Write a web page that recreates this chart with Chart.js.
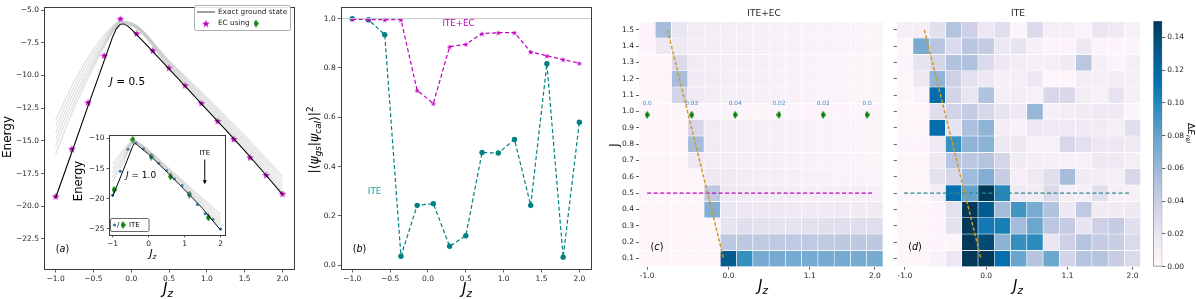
<!DOCTYPE html>
<html>
<head>
<meta charset="utf-8">
<script src="https://cdn.jsdelivr.net/npm/chart.js@4.4.0/dist/chart.umd.min.js"></script>
<style>
html, body { margin: 0; padding: 0; background: #fff; }
#fig { position: relative; width: 1196px; height: 299px; overflow: hidden; background: #fff; }
#fig canvas { position: absolute; }
</style>
</head>
<body>
<div id="fig">
  <canvas id="panelA" width="300" height="299" style="left:0px;top:0px"></canvas>
  <canvas id="inset" width="160" height="135" style="left:72px;top:128px"></canvas>
  <canvas id="panelB" width="300" height="299" style="left:300px;top:0px"></canvas>
  <canvas id="panelC" width="280" height="299" style="left:608px;top:0px"></canvas>
  <canvas id="panelD" width="262" height="299" style="left:888px;top:0px"></canvas>
  <canvas id="cbar" width="51" height="299" style="left:1145px;top:0px"></canvas>
</div>
<script>
// ---- data ----
const jzGrid = [-1.0, -0.786, -0.571, -0.357, -0.143, 0.071, 0.286, 0.5, 0.714, 0.929, 1.143, 1.357, 1.571, 1.786, 2.0];

// (a) J = 0.5
const ecEnergyJ05 = [-19.24, -15.6, -12.05, -8.46, -5.65, -6.78, -8.08, -9.39, -10.74, -12.1, -13.47, -14.85, -16.26, -17.61, -19.04];
const exactJz = [-1.0, -0.8, -0.6, -0.4, -0.25, -0.2, -0.15, -0.1, -0.05, 0.0, 0.25, 0.5, 0.75, 1.0, 1.25, 1.5, 1.75, 2.0];
const exactJ05 = [-19.35, -16.1, -12.8, -9.55, -7.1, -6.45, -6.1, -6.05, -6.2, -6.45, -7.95, -9.5, -11.05, -12.6, -14.15, -15.75, -17.4, -19.1];
const bundleJz = [-1.0, -0.75, -0.5, -0.3, -0.15, 0.0, 0.5, 1.0, 1.5, 2.0];
const bundleJ05 = [
    [-13.4, -10.4, -8.0, -6.55, -5.85, -5.95, -8.85, -11.7, -14.6, -17.7],
    [-13.9, -10.8, -8.3, -6.7, -5.9, -6.0, -8.95, -11.85, -14.8, -17.95],
    [-14.4, -11.2, -8.6, -6.85, -5.95, -6.05, -9.05, -12.0, -15.0, -18.2],
    [-14.9, -11.6, -8.9, -7.0, -6.0, -6.1, -9.15, -12.15, -15.2, -18.45],
    [-15.4, -12.0, -9.15, -7.1, -6.05, -6.15, -9.25, -12.3, -15.4, -18.7],
    [-16.0, -12.4, -9.4, -7.2, -6.1, -6.2, -9.35, -12.45, -15.6, -18.95]
];

// (a) inset, J = 1.0
const iteEnergyJ1 = [-19.43, -15.45, -11.8, -10.7, -11.7, -12.9, -14.1, -15.3, -16.7, -17.8, -19.2, -20.95, -22.5, -23.4, -25.0];
const trainJz = [-0.96, -0.44, 0.07, 0.61, 1.13, 1.66];
const trainEnergyJ1 = [-18.5, -10.2, -13.0, -16.3, -19.3, -23.1];
const exactJzInset = [-1.0, -0.8, -0.6, -0.45, -0.4, -0.35, -0.2, 0.0, 0.5, 1.0, 1.5, 2.0];
const exactJ1 = [-19.6, -16.7, -13.7, -11.4, -10.85, -10.9, -11.65, -12.6, -15.5, -18.5, -21.6, -25.2];
const bundleJzInset = [-1.0, -0.7, -0.42, -0.2, 0.0, 0.5, 1.0, 1.5, 2.0];
const bundleJ1 = [
    [-14.3, -12.0, -10.3, -11.0, -11.9, -14.6, -17.3, -20.0, -22.6],
    [-15.0, -12.5, -10.4, -11.1, -12.05, -14.8, -17.6, -20.4, -23.1],
    [-15.7, -13.0, -10.5, -11.2, -12.2, -15.0, -17.9, -20.8, -23.6],
    [-16.4, -13.5, -10.6, -11.3, -12.35, -15.2, -18.2, -21.2, -24.1],
    [-17.1, -14.0, -10.7, -11.4, -12.5, -15.4, -18.5, -21.6, -24.6]
];

// (b) overlaps
const overlapITE = [1.0, 0.995, 0.935, 0.037, 0.243, 0.25, 0.077, 0.12, 0.457, 0.455, 0.51, 0.243, 0.817, 0.033, 0.58];
const overlapEC = [0.997, 0.996, 0.996, 0.996, 0.709, 0.656, 0.886, 0.896, 0.939, 0.943, 0.943, 0.865, 0.849, 0.834, 0.819];

// (c)/(d) relative energy error, rows J = 1.5 ... 0.1, columns Jz index 0..14
const jRows = [1.5, 1.4, 1.3, 1.2, 1.1, 1.0, 0.9, 0.8, 0.7, 0.6, 0.5, 0.4, 0.3, 0.2, 0.1];
const errEC = [
    [0.003, 0.056, 0.02, 0.013, 0.012, 0.011, 0.01, 0.009, 0.008, 0.007, 0.006, 0.006, 0.005, 0.005, 0.004],
    [0.003, 0.018, 0.018, 0.013, 0.012, 0.011, 0.01, 0.009, 0.008, 0.007, 0.006, 0.006, 0.005, 0.005, 0.004],
    [0.002, 0.002, 0.03, 0.014, 0.012, 0.011, 0.01, 0.009, 0.008, 0.007, 0.006, 0.005, 0.005, 0.004, 0.004],
    [0.002, 0.002, 0.056, 0.015, 0.013, 0.011, 0.01, 0.009, 0.008, 0.007, 0.006, 0.005, 0.005, 0.004, 0.004],
    [0.002, 0.002, 0.036, 0.015, 0.013, 0.011, 0.01, 0.009, 0.008, 0.007, 0.006, 0.005, 0.005, 0.004, 0.004],
    [0.002, 0.002, 0.004, 0.006, 0.005, 0.005, 0.004, 0.004, 0.004, 0.003, 0.003, 0.003, 0.003, 0.003, 0.003],
    [0.002, 0.002, 0.002, 0.032, 0.014, 0.012, 0.011, 0.01, 0.009, 0.008, 0.007, 0.006, 0.005, 0.005, 0.004],
    [0.002, 0.002, 0.002, 0.056, 0.014, 0.012, 0.011, 0.01, 0.009, 0.008, 0.007, 0.006, 0.005, 0.005, 0.004],
    [0.002, 0.002, 0.002, 0.018, 0.013, 0.012, 0.011, 0.01, 0.009, 0.008, 0.007, 0.006, 0.005, 0.005, 0.004],
    [0.002, 0.002, 0.002, 0.002, 0.018, 0.016, 0.013, 0.011, 0.01, 0.009, 0.008, 0.007, 0.006, 0.006, 0.005],
    [0.002, 0.002, 0.002, 0.002, 0.046, 0.018, 0.015, 0.014, 0.013, 0.012, 0.011, 0.01, 0.01, 0.01, 0.009],
    [0.002, 0.002, 0.002, 0.002, 0.07, 0.02, 0.019, 0.018, 0.017, 0.016, 0.015, 0.015, 0.015, 0.014, 0.014],
    [0.002, 0.002, 0.002, 0.002, 0.002, 0.022, 0.026, 0.024, 0.023, 0.023, 0.024, 0.025, 0.026, 0.027, 0.027],
    [0.002, 0.002, 0.002, 0.002, 0.002, 0.046, 0.046, 0.045, 0.045, 0.045, 0.045, 0.045, 0.046, 0.046, 0.046],
    [0.002, 0.002, 0.002, 0.002, 0.002, 0.13, 0.094, 0.074, 0.074, 0.074, 0.074, 0.074, 0.074, 0.074, 0.074]
];
const errITE = [
    [0.01, 0.01, 0.025, 0.05, 0.038, 0.019, 0.026, 0.004, 0.03, 0.01, 0.01, 0.005, 0.02, 0.016, 0.008],
    [0.002, 0.073, 0.048, 0.03, 0.048, 0.043, 0.018, 0.022, 0.009, 0.004, 0.003, 0.017, 0.003, 0.003, 0.003],
    [0.003, 0.022, 0.034, 0.051, 0.052, 0.03, 0.018, 0.013, 0.011, 0.01, 0.014, 0.047, 0.009, 0.003, 0.01],
    [0.002, 0.017, 0.064, 0.038, 0.024, 0.018, 0.009, 0.01, 0.019, 0.002, 0.002, 0.012, 0.009, 0.013, 0.009],
    [0.002, 0.005, 0.115, 0.035, 0.02, 0.051, 0.01, 0.013, 0.008, 0.032, 0.031, 0.013, 0.008, 0.023, 0.009],
    [0.002, 0.002, 0.027, 0.036, 0.043, 0.032, 0.021, 0.018, 0.062, 0.009, 0.012, 0.014, 0.016, 0.016, 0.004],
    [0.002, 0.002, 0.115, 0.022, 0.053, 0.065, 0.012, 0.006, 0.019, 0.016, 0.016, 0.016, 0.014, 0.011, 0.026],
    [0.003, 0.003, 0.016, 0.093, 0.065, 0.067, 0.018, 0.018, 0.007, 0.008, 0.032, 0.024, 0.019, 0.017, 0.016],
    [0.002, 0.002, 0.018, 0.048, 0.047, 0.05, 0.034, 0.014, 0.012, 0.009, 0.008, 0.008, 0.018, 0.016, 0.01],
    [0.002, 0.002, 0.024, 0.032, 0.058, 0.07, 0.041, 0.01, 0.016, 0.026, 0.056, 0.014, 0.012, 0.011, 0.032],
    [0.002, 0.002, 0.012, 0.113, 0.08, 0.15, 0.1, 0.016, 0.014, 0.03, 0.01, 0.01, 0.026, 0.01, 0.008],
    [0.002, 0.002, 0.003, 0.024, 0.15, 0.13, 0.057, 0.09, 0.073, 0.051, 0.018, 0.045, 0.014, 0.014, 0.017],
    [0.002, 0.002, 0.003, 0.024, 0.15, 0.107, 0.104, 0.057, 0.077, 0.047, 0.043, 0.021, 0.038, 0.043, 0.026],
    [0.002, 0.002, 0.003, 0.004, 0.15, 0.14, 0.066, 0.094, 0.097, 0.02, 0.038, 0.05, 0.042, 0.04, 0.03],
    [0.002, 0.002, 0.006, 0.019, 0.15, 0.15, 0.113, 0.078, 0.049, 0.077, 0.035, 0.05, 0.05, 0.041, 0.03]
];
// EC training points on the J = 1.0 row and their errors
const trainCols = [0.0, 2.74, 5.41, 8.1, 10.82, 13.52];
const trainJ = 0.98;
const trainErrLabels = ['0.0', '0.03', '0.04', '0.02', '0.02', '0.0'];
// guide lines over the heatmaps
const guideC = [{ x: 1.25, y: 1.5 }, { x: 4.7, y: 0.1 }];
const guideD = [{ x: 1.2, y: 1.5 }, { x: 4.68, y: 0.1 }];
const cutJ = 0.5;
const cutCols = [0.0, 13.95];

// ticks
const ticksAx = [-1.0, -0.5, 0.0, 0.5, 1.0, 1.5, 2.0];
const ticksAy = [-22.5, -20.0, -17.5, -15.0, -12.5, -10.0, -7.5, -5.0];
const ticksInsetX = [-1, 0, 1, 2];
const ticksInsetY = [-25, -20, -15, -10];
const ticksBy = [0.0, 0.2, 0.4, 0.6, 0.8, 1.0];
const heatTickCols = [0, 5, 10, 14];
const heatTickLabels = ['-1.0', '0.0', '1.1', '2.0'];
const cbarTicks = [0.0, 0.02, 0.04, 0.06, 0.08, 0.10, 0.12, 0.14];

// ---- style ----
const MAG = '#bf00bf';
const TEAL = '#008080';
const GREEN = '#0a800a';
const GOLD = '#d49a1e';
const PUBU = ['#fff7fb', '#ece7f2', '#d0d1e6', '#a6bddb', '#74a9cf', '#3690c0', '#0570b0', '#045a8d', '#023858'];
const VMAX = 0.15;
const FONT = '"DejaVu Sans", sans-serif';
const BUNDLE = 'rgba(150,150,150,0.3)';

Chart.defaults.font.family = FONT;
Chart.defaults.font.size = 7.5;
Chart.defaults.color = '#1f1f1f';
Chart.defaults.animation = false;

function hexRgb(h) {
    return [1, 3, 5].map(function (i) { return parseInt(h.substr(i, 2), 16); });
}

function pubu(v) {
    var t = Math.max(0, Math.min(1, v / VMAX)) * (PUBU.length - 1);
    var i = Math.min(Math.floor(t), PUBU.length - 2);
    var f = t - i;
    var a = hexRgb(PUBU[i]), b = hexRgb(PUBU[i + 1]);
    return 'rgb(' + a.map(function (x, k) { return Math.round(x + (b[k] - x) * f); }).join(',') + ')';
}

function minus(s) {
    return String(s).replace('-', '\u2212');
}

function starImg(size, fill) {
    var c = document.createElement('canvas');
    c.width = size; c.height = size;
    var g = c.getContext('2d');
    var R = size / 2, r = R * 0.4;
    g.beginPath();
    for (var i = 0; i < 10; i++) {
        var ang = -Math.PI / 2 + i * Math.PI / 5;
        var rad = i % 2 ? r : R;
        g.lineTo(size / 2 + rad * Math.cos(ang), size / 2 + 0.4 + rad * Math.sin(ang));
    }
    g.closePath();
    g.fillStyle = fill;
    g.fill();
    return c;
}

function diamondImg(w, h, fill) {
    var c = document.createElement('canvas');
    c.width = w; c.height = h;
    var g = c.getContext('2d');
    g.beginPath();
    g.moveTo(w / 2, 0); g.lineTo(w, h / 2); g.lineTo(w / 2, h); g.lineTo(0, h / 2);
    g.closePath();
    g.fillStyle = fill;
    g.fill();
    return c;
}

const starBig = starImg(8, MAG);
const starSmall = starImg(6, MAG);
const diamond = diamondImg(5, 8, GREEN);

// text with sub/superscripts, centred at (x, y)
function drawMath(ctx, segs, x, y, size, color, rot) {
    ctx.save();
    ctx.translate(x, y);
    if (rot) ctx.rotate(rot);
    ctx.fillStyle = color || '#000';
    ctx.textBaseline = 'middle';
    ctx.textAlign = 'left';
    var items = segs.map(function (s) {
        var fs = (s.sub || s.sup) ? size * 0.7 : size;
        var font = (s.it ? 'italic ' : '') + fs + 'px ' + FONT;
        ctx.font = font;
        return { t: s.t, font: font, w: ctx.measureText(s.t).width, dy: s.sub ? size * 0.28 : (s.sup ? -size * 0.38 : 0) };
    });
    var total = items.reduce(function (a, b) { return a + b.w; }, 0);
    var cx = -total / 2;
    items.forEach(function (it) {
        ctx.font = it.font;
        ctx.fillText(it.t, cx, it.dy);
        cx += it.w;
    });
    ctx.restore();
}

const JZ_LABEL = [{ t: 'J', it: true }, { t: 'z', it: true, sub: true }];

function linAxis(pos, min, max, ticks, fmt, size, tickLen) {
    return {
        type: 'linear', position: pos, min: min, max: max, offset: false,
        afterBuildTicks: function (ax) { ax.ticks = ticks.map(function (v) { return { value: v }; }); },
        afterFit: function (ax) { if (pos === 'bottom') ax.height = size; else ax.width = size; },
        grid: { drawOnChartArea: false, drawTicks: true, tickLength: tickLen || 3, color: '#3c3c3c', lineWidth: 0.8, offset: false },
        border: { display: false },
        ticks: { callback: fmt, autoSkip: false, maxRotation: 0, padding: 2 }
    };
}

function pts(xs, ys) {
    return ys.map(function (v, i) { return { x: xs[i], y: v }; });
}

const framePlugin = {
    id: 'frame',
    afterDraw: function (chart) {
        var a = chart.chartArea, c = chart.ctx;
        c.save();
        c.strokeStyle = '#3c3c3c';
        c.lineWidth = 1;
        c.strokeRect(Math.round(a.left) + 0.5, Math.round(a.top) + 0.5, Math.round(a.right - a.left) - 1, Math.round(a.bottom - a.top) - 1);
        c.restore();
    }
};

const baseOpts = {
    responsive: false,
    animation: false,
    events: [],
    plugins: { legend: { display: false }, tooltip: { enabled: false } }
};

function opts(extra) {
    return Object.assign({}, baseOpts, extra);
}

// ---- (a) ----
new Chart(document.getElementById('panelA'), {
    type: 'line',
    data: {
        datasets: bundleJ05.map(function (curve) {
            return { data: pts(bundleJz, curve), borderColor: BUNDLE, borderWidth: 1.2, pointRadius: 0, cubicInterpolationMode: 'monotone' };
        }).concat([
            { data: pts(exactJz, exactJ05), borderColor: '#000', borderWidth: 1.1, pointRadius: 0 },
            { data: pts(jzGrid, ecEnergyJ05), showLine: false, pointStyle: starBig, pointRadius: 4 }
        ])
    },
    options: opts({
        layout: { padding: { top: 2, right: 4, left: 0, bottom: 0 } },
        scales: {
            x: linAxis('bottom', -1.154, 2.166, ticksAx, function (v) { return minus(v.toFixed(1)); }, 29.5),
            y: linAxis('left', -24.84, -4.72, ticksAy, function (v) { return minus(v.toFixed(1)); }, 44)
        }
    }),
    plugins: [framePlugin, {
        id: 'textA',
        afterDraw: function (chart) {
            var c = chart.ctx;
            drawMath(c, [{ t: 'Energy' }], 8, 137, 12, '#000', -Math.PI / 2);
            drawMath(c, JZ_LABEL, 168, 290, 15, '#000');
            drawMath(c, [{ t: '(' }, { t: 'a', it: true }, { t: ')' }], 62.5, 249, 9.6, '#000');
            drawMath(c, [{ t: 'J', it: true }, { t: ' = 0.5' }], 127.5, 82, 10.5, '#000');
            // legend
            c.save();
            c.fillStyle = 'rgba(255,255,255,0.85)';
            c.strokeStyle = '#9a9a9a';
            c.lineWidth = 0.8;
            c.beginPath();
            c.roundRect(194.5, 5.5, 96, 25, 2);
            c.fill(); c.stroke();
            c.strokeStyle = '#808080';
            c.lineWidth = 1.5;
            c.beginPath(); c.moveTo(197, 12); c.lineTo(215, 12); c.stroke();
            c.drawImage(starBig, 202, 19.5);
            c.drawImage(diamond, 253.5, 19.5);
            c.fillStyle = '#1f1f1f';
            c.font = '7.3px ' + FONT;
            c.textBaseline = 'middle';
            c.fillText('Exact ground state', 218, 12);
            c.fillText('EC using', 218, 23.5);
            c.restore();
        }
    }]
});

// ---- (a) inset ----
new Chart(document.getElementById('inset'), {
    type: 'line',
    data: {
        datasets: bundleJ1.map(function (curve) {
            return { data: pts(bundleJzInset, curve), borderColor: BUNDLE, borderWidth: 1.2, pointRadius: 0, cubicInterpolationMode: 'monotone' };
        }).concat([
            { data: pts(exactJzInset, exactJ1), borderColor: '#000', borderWidth: 1, pointRadius: 0 },
            { data: pts(jzGrid, iteEnergyJ1), showLine: false, pointRadius: 1.5, backgroundColor: '#1f77b4', borderWidth: 0 },
            { data: pts(trainJz, trainEnergyJ1), showLine: false, pointStyle: diamond, pointRadius: 4 }
        ])
    },
    options: opts({
        layout: { padding: { top: 5, right: 6, left: 0, bottom: 0 } },
        scales: {
            x: linAxis('bottom', -1.1, 2.15, ticksInsetX, function (v) { return minus(v.toFixed(0)); }, 28, 2.5),
            y: linAxis('left', -26.0, -9.35, ticksInsetY, function (v) { return minus(v.toFixed(0)); }, 37, 2.5)
        }
    }),
    plugins: [{
        id: 'bgInset',
        beforeDraw: function (chart) {
            var a = chart.chartArea, c = chart.ctx;
            c.save(); c.fillStyle = '#fff'; c.fillRect(a.left, a.top, a.right - a.left, a.bottom - a.top); c.restore();
        }
    }, framePlugin, {
        id: 'textInset',
        afterDraw: function (chart) {
            var c = chart.ctx, sx = chart.scales.x, sy = chart.scales.y;
            drawMath(c, [{ t: 'Energy' }], 7, 53, 11.5, '#000', -Math.PI / 2);
            drawMath(c, JZ_LABEL, 81, 126, 10.6, '#000');
            drawMath(c, [{ t: 'J', it: true }, { t: ' = 1.0' }], 69, 48, 9, '#000');
            // ITE arrow
            var ax = sx.getPixelForValue(1.56);
            drawMath(c, [{ t: 'ITE' }], ax, sy.getPixelForValue(-12.45), 6.9, '#000');
            var y0 = sy.getPixelForValue(-13.5), y1 = sy.getPixelForValue(-17.6);
            c.save();
            c.strokeStyle = '#000'; c.fillStyle = '#000'; c.lineWidth = 1;
            c.beginPath(); c.moveTo(ax, y0); c.lineTo(ax, y1 - 3); c.stroke();
            c.beginPath(); c.moveTo(ax - 2, y1 - 4); c.lineTo(ax + 2, y1 - 4); c.lineTo(ax, y1); c.closePath(); c.fill();
            // legend
            c.fillStyle = '#fff';
            c.strokeStyle = '#444';
            c.lineWidth = 0.8;
            c.beginPath(); c.roundRect(38.5, 90.5, 38.5, 13, 1.5); c.fill(); c.stroke();
            c.fillStyle = '#1f77b4';
            c.beginPath(); c.arc(42.5, 97, 1.5, 0, Math.PI * 2); c.fill();
            c.fillStyle = '#000';
            c.font = '7px ' + FONT;
            c.textBaseline = 'middle';
            c.fillText('/', 45, 97);
            c.drawImage(diamond, 48.5, 93);
            c.fillText('ITE', 57, 97);
            c.restore();
        }
    }]
});

// ---- (b) ----
new Chart(document.getElementById('panelB'), {
    type: 'line',
    data: {
        datasets: [
            { data: [{ x: -1.2, y: 1.0 }, { x: 2.2, y: 1.0 }], borderColor: '#c8c8c8', borderWidth: 1, pointRadius: 0 },
            { data: pts(jzGrid, overlapEC), borderColor: MAG, borderWidth: 1.2, borderDash: [4, 2.5], pointStyle: starSmall, pointRadius: 3 },
            { data: pts(jzGrid, overlapITE), borderColor: TEAL, borderWidth: 1.2, borderDash: [4, 2.5], pointRadius: 2.7, backgroundColor: TEAL, pointBorderWidth: 0 }
        ]
    },
    options: opts({
        layout: { padding: { top: 2, right: 8.3, left: 0, bottom: 0 } },
        scales: {
            x: linAxis('bottom', -1.153, 2.163, ticksAx, function (v) { return minus(v.toFixed(1)); }, 29.5),
            y: linAxis('left', -0.017, 1.049, ticksBy, function (v) { return v.toFixed(1); }, 40.7)
        }
    }),
    plugins: [framePlugin, {
        id: 'textB',
        afterDraw: function (chart) {
            var c = chart.ctx;
            drawMath(c, [{ t: '|\u27e8' }, { t: '\u03c8', it: true }, { t: 'gs', it: true, sub: true }, { t: '|' }, { t: '\u03c8', it: true }, { t: 'cal', it: true, sub: true }, { t: '\u27e9|' }, { t: '2', sup: true }], 15, 140, 12.5, '#000', -Math.PI / 2);
            drawMath(c, JZ_LABEL, 167, 290, 15, '#000');
            drawMath(c, [{ t: '(' }, { t: 'b', it: true }, { t: ')' }], 59.5, 249, 9.6, '#000');
            drawMath(c, [{ t: 'ITE+EC' }], 158.5, 24, 8.7, MAG);
            drawMath(c, [{ t: 'ITE' }], 74.5, 192, 8.7, '#1a9a9a');
        }
    }]
});

// ---- heatmaps ----
function heatDatasets(grid) {
    return grid.map(function (row, r) {
        return {
            type: 'bar',
            data: row.map(function (v, col) { return { x: col, y: [jRows[r] - 0.05, jRows[r] + 0.05] }; }),
            backgroundColor: row.map(pubu),
            borderColor: '#ffffff',
            borderWidth: 0.6,
            borderSkipped: false,
            grouped: false,
            barPercentage: 1,
            categoryPercentage: 1,
            order: 10
        };
    });
}

function heatScales(yWidth, showY) {
    return {
        x: linAxis('bottom', -0.5, 14.5, heatTickCols, function (v, i) { return heatTickLabels[i]; }, 32.3),
        y: linAxis('left', 0.05, 1.55, jRows, function (v) { return showY ? v.toFixed(1) : ''; }, yWidth)
    };
}

new Chart(document.getElementById('panelC'), {
    type: 'bar',
    data: {
        datasets: heatDatasets(errEC).concat([
            { type: 'line', data: [{ x: cutCols[0], y: cutJ }, { x: cutCols[1], y: cutJ }], borderColor: MAG, borderWidth: 1.2, borderDash: [4, 2.5], pointRadius: 0, order: 1 },
            { type: 'line', data: guideC, borderColor: GOLD, borderWidth: 1.5, borderDash: [3.5, 2], pointRadius: 0, order: 0 },
            { type: 'line', data: trainCols.map(function (x) { return { x: x, y: trainJ }; }), showLine: false, pointStyle: diamond, pointRadius: 4, order: 0 }
        ])
    },
    options: opts({
        layout: { padding: { top: 21.7, right: 4, left: 0, bottom: 0 } },
        scales: heatScales(31, true)
    }),
    plugins: [{
        id: 'textC',
        afterDraw: function (chart) {
            var c = chart.ctx, sx = chart.scales.x, sy = chart.scales.y;
            drawMath(c, [{ t: 'ITE+EC' }], 156, 14, 9, '#1f1f1f');
            drawMath(c, [{ t: 'J' }], 7, 145, 11.5, '#1f1f1f', -Math.PI / 2);
            drawMath(c, JZ_LABEL, 155, 287, 15, '#000');
            drawMath(c, [{ t: '(' }, { t: 'c', it: true }, { t: ')' }], 49, 247, 9.6, '#000');
            trainCols.forEach(function (x, i) {
                drawMath(c, [{ t: trainErrLabels[i] }], sx.getPixelForValue(x), sy.getPixelForValue(trainJ) - 11.5, 5.8, '#3d8ed0');
            });
        }
    }]
});

new Chart(document.getElementById('panelD'), {
    type: 'bar',
    data: {
        datasets: heatDatasets(errITE).concat([
            { type: 'line', data: [{ x: cutCols[0] - 0.05, y: cutJ }, { x: cutCols[1], y: cutJ }], borderColor: '#2a8c8c', borderWidth: 1.2, borderDash: [4, 2.5], pointRadius: 0, order: 1 },
            { type: 'line', data: guideD, borderColor: GOLD, borderWidth: 1.5, borderDash: [3.5, 2], pointRadius: 0, order: 0 }
        ])
    },
    options: opts({
        layout: { padding: { top: 21.7, right: 9.3, left: 0, bottom: 0 } },
        scales: heatScales(8.7, false)
    }),
    plugins: [{
        id: 'textD',
        afterDraw: function (chart) {
            var c = chart.ctx;
            drawMath(c, [{ t: 'ITE' }], 130, 14, 9, '#1f1f1f');
            drawMath(c, JZ_LABEL, 130, 287, 15, '#000');
            drawMath(c, [{ t: '(' }, { t: 'd', it: true }, { t: ')' }], 27, 247, 9.6, '#000');
        }
    }]
});

// ---- colorbar ----
new Chart(document.getElementById('cbar'), {
    type: 'bar',
    data: {
        labels: ['\u0394E'],
        datasets: [{
            data: [[0, VMAX]],
            backgroundColor: function (ctx) {
                var ch = ctx.chart, a = ch.chartArea;
                if (!a) return PUBU[0];
                var g = ch.ctx.createLinearGradient(0, a.bottom, 0, a.top);
                PUBU.forEach(function (col, i) { g.addColorStop(i / (PUBU.length - 1), col); });
                return g;
            },
            borderColor: '#666',
            borderWidth: 0.8,
            borderSkipped: false,
            barPercentage: 1,
            categoryPercentage: 1
        }]
    },
    options: opts({
        layout: { padding: { top: 21, right: 0, left: 8.3, bottom: 32.3 } },
        scales: {
            x: { display: false },
            y: linAxis('right', 0, VMAX, cbarTicks, function (v) { return v.toFixed(2); }, 33.7)
        }
    }),
    plugins: [{
        id: 'textCb',
        afterDraw: function (chart) {
            drawMath(chart.ctx, [{ t: '\u0394' }, { t: 'E', it: true }, { t: 'rel', it: true, sub: true }], 45, 133, 9, '#000', Math.PI / 2);
        }
    }]
});
</script>
</body>
</html>
